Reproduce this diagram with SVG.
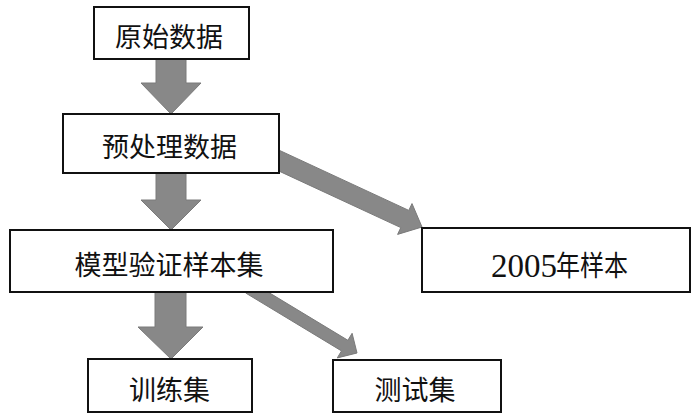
<svg xmlns="http://www.w3.org/2000/svg" width="700" height="419" viewBox="0 0 700 419">
<style>
.box{fill:#fff;stroke:#111;stroke-width:2}
.arr{fill:#888;stroke:#7a7a7a;stroke-width:1}
.lbl{font-family:"Noto Sans CJK SC","Liberation Serif",serif;font-size:27px;fill:#111;text-anchor:middle;dominant-baseline:central}
</style>
<rect width="700" height="419" fill="#fff"/>
<g id="connectors">
<polygon class="arr" points="156,55 186,55 186,83 201,83 171,114 141,83 156,83"/>
<polygon class="arr" points="156,170 186,170 186,200 201,200 171,230 141,200 156,200"/>
<polygon class="arr" points="155,290 186,290 186,327 203,327 171,359 138,327 155,327"/>
<polygon class="arr" points="276.9,149.2 408.8,210.4 412,203.6 422,227 397.6,234.4 400.8,227.6 268.9,166.4"/>
<polygon class="arr" points="252.4,282.6 347.9,340.3 352.1,333.3 357,353 337.3,357.9 341.5,350.9 246,293.2"/>
</g>
<g id="n1"><rect class="box" x="94" y="7" width="155" height="52"/><text class="lbl" x="169" y="35">原始数据</text></g>
<g id="n2"><rect class="box" x="63" y="114" width="216" height="59"/><text class="lbl" x="169.5" y="145">预处理数据</text></g>
<g id="n3"><rect class="box" x="10" y="230" width="323" height="62"/><text class="lbl" x="169" y="263">模型验证样本集</text></g>
<g id="n4"><rect class="box" x="88" y="359" width="164" height="53"/><text class="lbl" x="169.5" y="388">训练集</text></g>
<g id="n5"><rect class="box" x="333" y="360" width="168" height="52"/><text class="lbl" x="415" y="388">测试集</text></g>
<g id="n6"><rect class="box" x="422" y="228" width="268" height="64"/>
<text x="491" y="277" style="font-family:'Liberation Serif',serif;font-size:33px;fill:#111">2005</text>
<text x="556" y="264" textLength="72" lengthAdjust="spacingAndGlyphs" style="font-family:'Noto Sans CJK SC',sans-serif;font-size:28px;fill:#111;dominant-baseline:central">年样本</text>
</g>
</svg>
